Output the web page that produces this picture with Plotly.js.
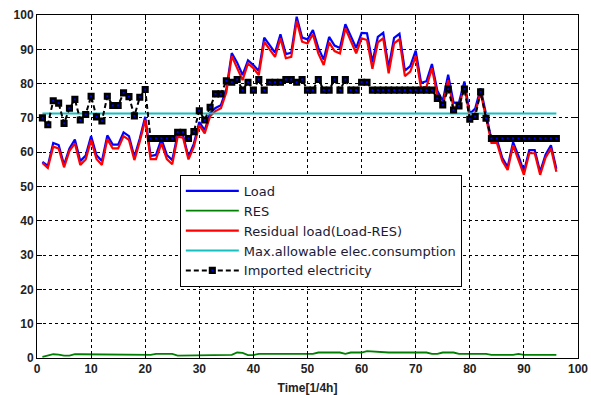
<!DOCTYPE html>
<html>
<head>
<meta charset="utf-8">
<script src="https://cdn.plot.ly/plotly-3.0.1.min.js"></script>
<style>
html,body{margin:0;padding:0;background:#fff;}
#chart{width:591px;height:395px;}
</style>
</head>
<body>
<div id="chart"></div>
<script>
// time steps (1/4 h)
const timeSteps = [1,2,3,4,5,6,7,8,9,10,11,12,13,14,15,16,17,18,19,20,21,22,23,24,25,26,27,28,29,30,31,32,33,34,35,36,37,38,39,40,41,42,43,44,45,46,47,48,49,50,51,52,53,54,55,56,57,58,59,60,61,62,63,64,65,66,67,68,69,70,71,72,73,74,75,76,77,78,79,80,81,82,83,84,85,86,87,88,89,90,91,92,93,94,95,96];

const load = [57.2,56.0,62.7,62.1,56.3,61.1,63.7,57.4,59.0,64.7,59.1,57.4,64.9,62.2,62.2,65.8,64.7,58.6,64.0,70.3,
  58.9,59.2,63.8,59.2,57.7,65.2,64.9,58.6,62.5,68.8,66.4,71.4,72.9,73.7,78.4,88.9,86.1,82.5,86.8,85.4,
  83.7,93.4,91.2,89.0,94.4,88.6,89.0,99.5,93.4,92.9,95.6,90.4,87.0,93.6,91.1,90.4,97.3,93.8,90.4,94.8,
  94.7,86.2,93.6,94.8,84.6,93.3,94.5,83.8,85.1,89.6,80.2,80.7,85.7,77.9,74.9,82.6,74.4,74.5,80.6,71.2,
  72.7,78.6,71.1,63.6,63.7,58.4,55.7,62.9,58.9,54.3,60.6,60.6,54.3,59.3,62.0,55.2];

const res = [0.3,0.6,1.1,1.0,0.7,0.7,1.1,1.1,1.1,1.1,1.1,1.1,1.1,1.1,1.1,1.1,1.1,0.9,0.9,0.9,
  0.9,1.2,1.2,1.2,1.2,0.7,0.7,0.7,0.9,0.9,0.9,0.9,0.9,0.9,0.9,0.9,1.6,1.5,0.85,0.85,
  1.2,1.2,1.2,1.2,1.2,1.2,1.2,1.2,1.2,1.2,1.2,1.6,1.6,1.6,1.6,1.6,1.2,1.6,1.6,1.6,
  2.0,1.9,1.6,1.6,1.6,1.6,1.6,1.6,1.6,1.6,1.6,1.6,1.2,1.2,1.6,1.6,1.6,1.2,1.2,1.2,
  1.2,1.2,1.2,0.9,0.9,0.9,0.9,0.9,1.2,0.9,0.9,0.9,0.9,0.9,0.9,0.9];

const residual = [56.9,55.4,61.6,61.1,55.6,60.4,62.6,56.3,57.9,63.6,58.0,56.3,63.8,61.1,61.1,64.7,63.6,57.7,63.1,69.4,
  58.0,58.0,62.6,58.0,56.5,64.5,64.2,57.9,61.6,67.9,65.5,70.5,72.0,72.8,77.5,88.0,84.5,81.0,85.9,84.5,
  82.5,92.2,90.0,87.8,93.2,87.4,87.8,98.3,92.2,91.7,94.4,88.8,85.4,92.0,89.5,88.8,96.1,92.2,88.8,93.2,
  92.7,84.3,92.0,93.2,83.0,91.7,92.9,82.2,83.5,88.0,78.6,79.1,84.5,76.7,73.3,81.0,72.8,73.3,79.4,70.0,
  71.5,77.4,69.9,62.7,62.8,57.5,54.8,62.0,57.7,53.4,59.7,59.7,53.4,58.4,61.1,54.3];

const maxAllowed = [71.3,71.3,71.3,71.3,71.3,71.3,71.3,71.3,71.3,71.3,71.3,71.3,71.3,71.3,71.3,71.3,71.3,71.3,71.3,71.3,
  71.3,71.3,71.3,71.3,71.3,71.3,71.3,71.3,71.3,71.3,71.3,71.3,71.3,71.3,71.3,71.3,71.3,71.3,71.3,71.3,
  71.3,71.3,71.3,71.3,71.3,71.3,71.3,71.3,71.3,71.3,71.3,71.3,71.3,71.3,71.3,71.3,71.3,71.3,71.3,71.3,
  71.3,71.3,71.3,71.3,71.3,71.3,71.3,71.3,71.3,71.3,71.3,71.3,71.3,71.3,71.3,71.3,71.3,71.3,71.3,71.3,
  71.3,71.3,71.3,71.3,71.3,71.3,71.3,71.3,71.3,71.3,71.3,71.3,71.3,71.3,71.3,71.3];

const imported = [70,68,75,74.3,68.4,72.8,75.4,69.4,71,76.3,70.3,69.1,76.3,73.6,73.6,77.3,76.2,70.6,76,78.3,
  64,64,64,64,64,65.8,65.8,64,66,72.1,69.4,73.1,77,77,80.8,80.4,81.2,78.1,80.4,78.1,
  81.2,78.1,80.4,80.4,80.4,81.2,81.2,80.4,81.2,78.1,78.1,81.2,78.1,78.1,81.2,78.1,81.2,78.1,78.1,80.4,
  80.4,78.1,78.1,78.1,78.1,78.1,78.1,78.1,78.1,78.1,78.1,78.1,78.1,75.7,73.8,78.4,72.3,73.5,78.4,69.6,
  70.4,77.6,69.9,64,64,64,64,64,64,64,64,64,64,64,64,64];

const seriesNames = ['Load','RES','Residual load(Load-RES)','Max.allowable elec.consumption','Imported electricity'];
const xTicks = [0,10,20,30,40,50,60,70,80,90,100];
const yTicks = [0,10,20,30,40,50,60,70,80,90,100];

const traces = [
  {x: timeSteps, y: load, name: seriesNames[0], mode: 'lines', line: {color: '#0000ff', width: 2.2}},
  {x: timeSteps, y: res, name: seriesNames[1], mode: 'lines', line: {color: '#008000', width: 1.8}},
  {x: timeSteps, y: residual, name: seriesNames[2], mode: 'lines', line: {color: '#ff0000', width: 2.2}},
  {x: timeSteps, y: maxAllowed, name: seriesNames[3], mode: 'lines', line: {color: '#14c0c0', width: 2}},
  {x: timeSteps, y: imported, name: seriesNames[4], mode: 'lines+markers',
   line: {color: '#000000', width: 2, dash: '5px,3px'},
   marker: {symbol: 'square', size: 4.5, color: '#0000ff', line: {color: '#000000', width: 2.6}}}
];

const axisCommon = {
  showline: true, linecolor: '#000', linewidth: 1, mirror: 'ticks',
  ticks: 'inside', ticklen: 5, tickcolor: '#000',
  showgrid: true, gridcolor: '#000', griddash: '3px,3px', gridwidth: 1,
  zeroline: false,
  tickfont: {family: 'Liberation Sans, Arial, sans-serif', size: 12, color: '#222', weight: 'bold'}
};

const layout = {
  width: 591, height: 395,
  margin: {l: 37, r: 13, t: 15, b: 37},
  paper_bgcolor: '#fff', plot_bgcolor: '#fff',
  showlegend: true,
  xaxis: Object.assign({}, axisCommon, {
    range: [0, 100], tickvals: xTicks, ticktext: xTicks.map(String),
    title: {text: 'Time[1/4h]', standoff: 8, font: {family: 'Liberation Sans, Arial, sans-serif', size: 12, color: '#222', weight: 'bold'}}
  }),
  yaxis: Object.assign({}, axisCommon, {
    range: [0, 100], tickvals: yTicks, ticktext: yTicks.map(String)
  }),
  legend: {
    x: 0.264, y: 0.534, xanchor: 'left', yanchor: 'top',
    bgcolor: '#fff', bordercolor: '#000', borderwidth: 1,
    font: {family: 'DejaVu Sans, sans-serif', size: 13, color: '#1a1a33'},
    tracegroupgap: 0, itemwidth: 53
  }
};

Plotly.newPlot('chart', traces, layout, {displayModeBar: false, staticPlot: true});
</script>
</body>
</html>
